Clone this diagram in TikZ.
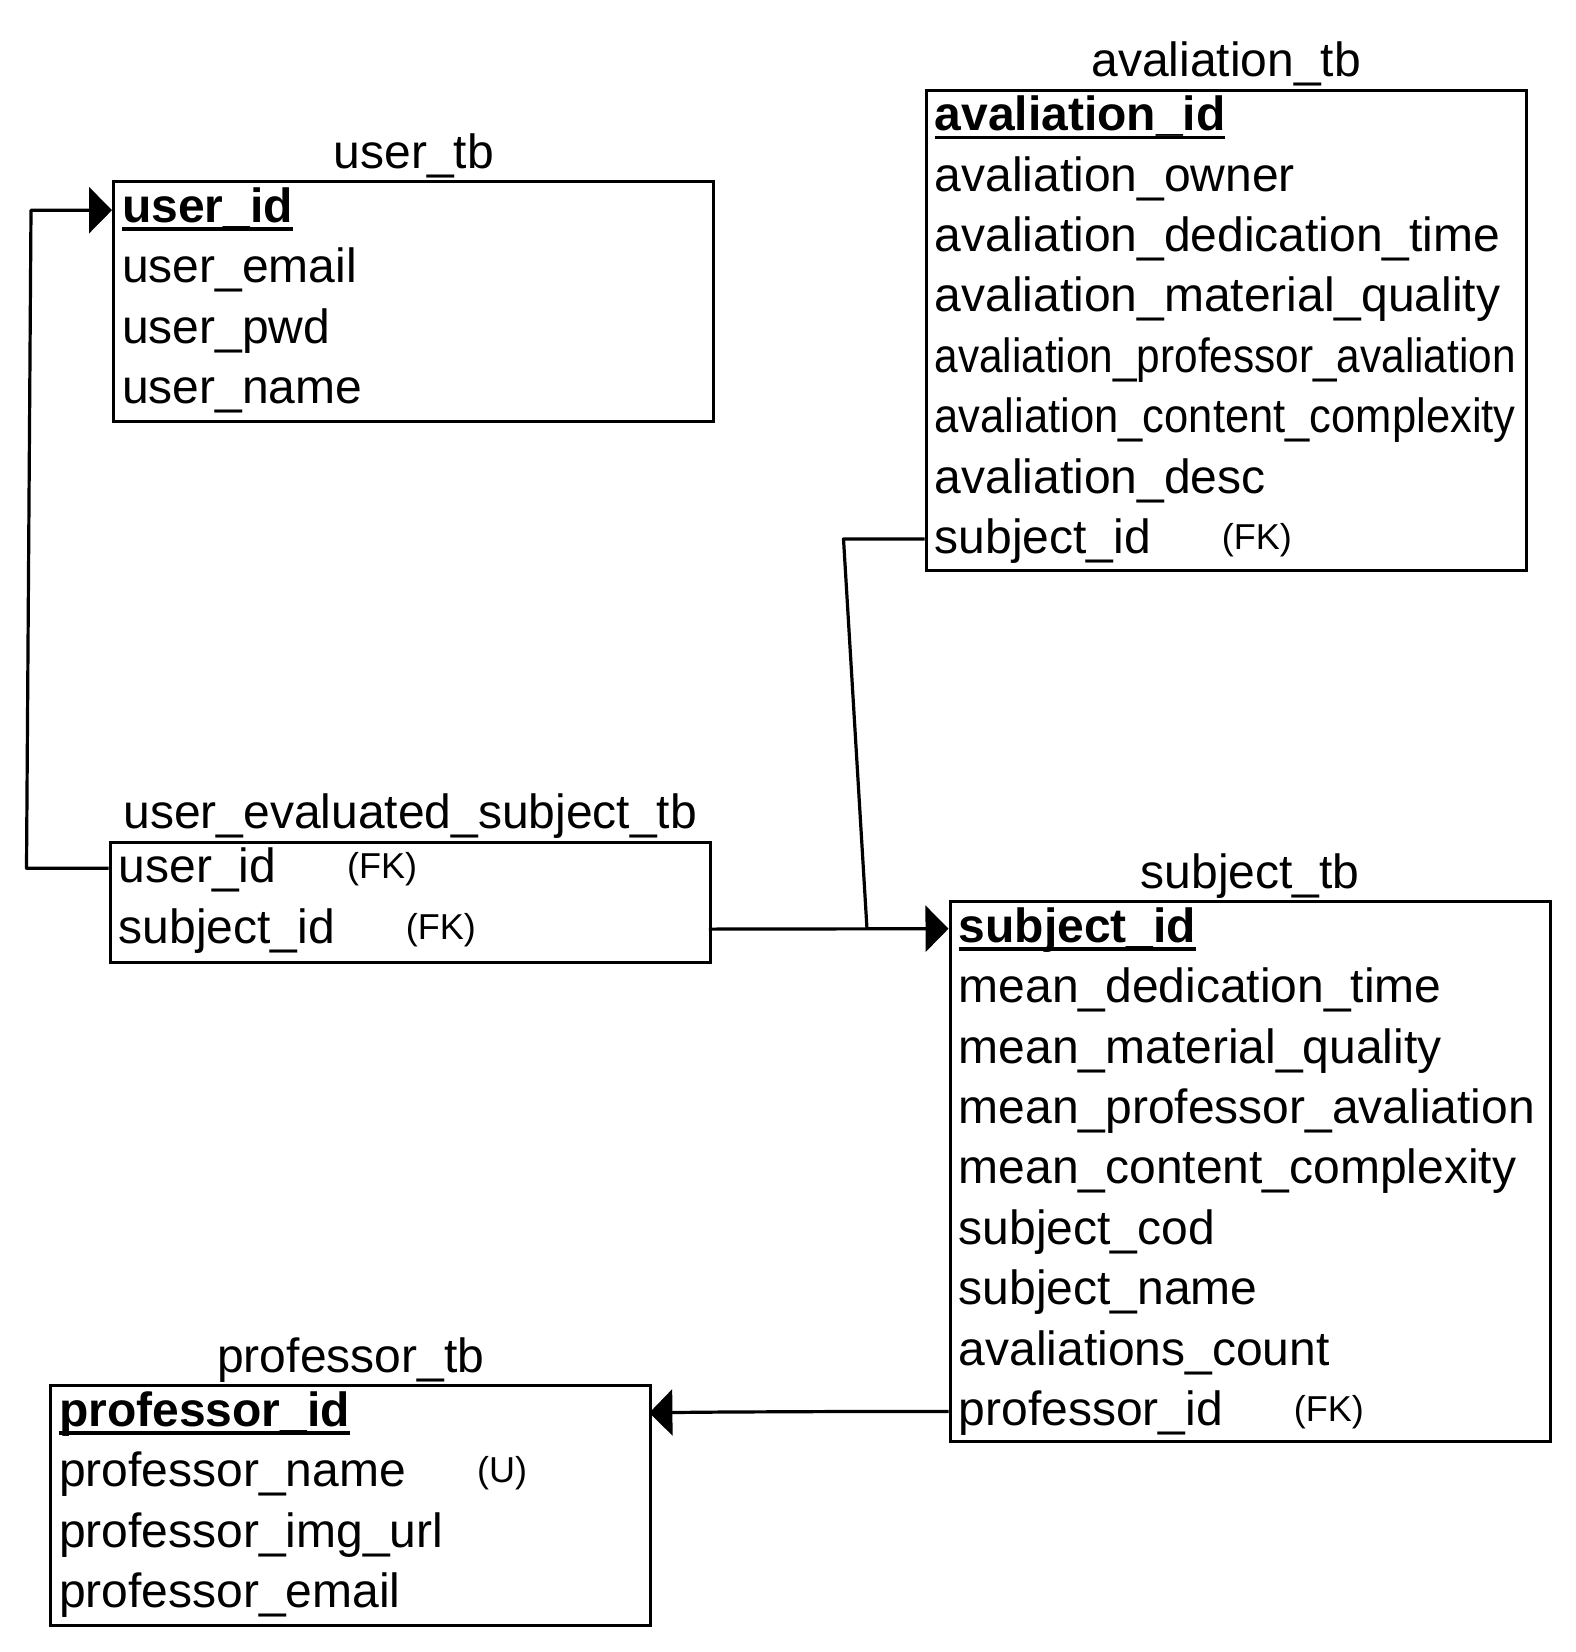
\documentclass[tikz,border=0pt]{standalone}
\usepackage{fontspec}
\usepackage{graphicx}
\setmainfont{Liberation Sans}
\usetikzlibrary{arrows.meta,calc}
\newcommand{\fk}[1]{\hspace{71pt}\raisebox{4pt}{\fontsize{36}{42}\selectfont #1}}
\newcommand{\pk}[1]{\setbox0\hbox{\bfseries #1}\rlap{\rule[-8.6pt]{\wd0}{3.4pt}}\box0}
\newcommand{\cond}[1]{\resizebox{581pt}{\height}{#1}}
\begin{document}
\begin{tikzpicture}[x=1pt,y=-1pt,
  every node/.style={font=\fontsize{48}{58}\selectfont},
  tbl/.style={draw,line width=3.4pt,minimum width=600pt,inner sep=0pt,anchor=north west},
  rowbox/.style={minimum width=600pt,minimum height=60pt,inner xsep=10pt,inner ysep=0pt,
    text width=580pt,align=left,text height=42pt,text depth=18pt,anchor=north west},
  ttl/.style={anchor=base,inner sep=0pt},
  conn/.style={line width=3.2pt,line join=round},
  tip/.style={-{Triangle[length=23pt,width=46pt]}}]
\useasboundingbox (0,0) rectangle (1576,1652);

% user_tb
\node[tbl,minimum height=240pt] (user) at (112,180) {};
\node[ttl] (user-t) at ($(user.north)+(0,-12)$) {user\_tb};
\node[rowbox] (user-1) at (user.north west) {\pk{user\_id}};
\node[rowbox] (user-2) at (user-1.south west) {user\_email};
\node[rowbox] (user-3) at (user-2.south west) {user\_pwd};
\node[rowbox] (user-4) at (user-3.south west) {user\_name};

% avaliation_tb
\node[tbl,minimum height=480pt] (aval) at (924.5,88.5) {};
\node[ttl] (aval-t) at ($(aval.north)+(0,-12)$) {avaliation\_tb};
\node[rowbox] (aval-1) at (aval.north west) {\pk{avaliation\_id}};
\node[rowbox] (aval-2) at (aval-1.south west) {avaliation\_owner};
\node[rowbox] (aval-3) at (aval-2.south west) {avaliation\_dedication\_time};
\node[rowbox] (aval-4) at (aval-3.south west) {avaliation\_material\_quality};
\node[rowbox] (aval-5) at (aval-4.south west) {\cond{avaliation\_professor\_avaliation}};
\node[rowbox] (aval-6) at (aval-5.south west) {\cond{avaliation\_content\_complexity}};
\node[rowbox] (aval-7) at (aval-6.south west) {avaliation\_desc};
\node[rowbox] (aval-8) at (aval-7.south west) {subject\_id\fk{(FK)}};

% user_evaluated_subject_tb
\node[tbl,minimum height=120pt] (ues) at (108.5,840.5) {};
\node[ttl] (ues-t) at ($(ues.north)+(0,-12)$) {user\_evaluated\_subject\_tb};
\node[rowbox] (ues-1) at (ues.north west) {user\_id\fk{(FK)}};
\node[rowbox] (ues-2) at (ues-1.south west) {subject\_id\fk{(FK)}};

% subject_tb
\node[tbl,minimum height=540pt] (subj) at (948.5,900) {};
\node[ttl] (subj-t) at ($(subj.north)+(0,-12)$) {subject\_tb};
\node[rowbox] (subj-1) at (subj.north west) {\pk{subject\_id}};
\node[rowbox] (subj-2) at (subj-1.south west) {mean\_dedication\_time};
\node[rowbox] (subj-3) at (subj-2.south west) {mean\_material\_quality};
\node[rowbox] (subj-4) at (subj-3.south west) {mean\_professor\_avaliation};
\node[rowbox] (subj-5) at (subj-4.south west) {mean\_content\_complexity};
\node[rowbox] (subj-6) at (subj-5.south west) {subject\_cod};
\node[rowbox] (subj-7) at (subj-6.south west) {subject\_name};
\node[rowbox] (subj-8) at (subj-7.south west) {avaliations\_count};
\node[rowbox] (subj-9) at (subj-8.south west) {professor\_id\fk{(FK)}};

% professor_tb
\node[tbl,minimum height=240pt] (prof) at (49,1384) {};
\node[ttl] (prof-t) at ($(prof.north)+(0,-12)$) {professor\_tb};
\node[rowbox] (prof-1) at (prof.north west) {\pk{professor\_id}};
\node[rowbox] (prof-2) at (prof-1.south west) {professor\_name\fk{(U)}};
\node[rowbox] (prof-3) at (prof-2.south west) {professor\_img\_url};
\node[rowbox] (prof-4) at (prof-3.south west) {professor\_email};

% connection points on the rows
\coordinate (ues1w) at ($(ues-1.west)+(0,-2.5)$);
\coordinate (user1w) at (user-1.west);
\coordinate (aval8w) at ($(aval-8.west)+(0,-2.5)$);
\coordinate (ues2e) at ($(ues-2.east)+(0,-2)$);
\coordinate (subj1w) at ($(subj-1.west)+(0,-1.5)$);
\coordinate (subj9w) at ($(subj-9.west)+(0,-2)$);
\coordinate (prof1e) at ($(prof-1.east)+(0,-1.5)$);

% connectors
\coordinate (b1) at (26.5,869);
\coordinate (b2) at (31,211);
\draw[conn,tip] (ues1w) -- (ues1w -| b1) -- (b2 |- user1w) -- (user1w);

\coordinate (j1) at (843.5,537);
\coordinate (j2) at (867,929);
\draw[conn] (aval8w) -- (aval8w -| j1) -- (j2);

\draw[conn,tip] (ues2e) -- (subj1w);

\coordinate (k1) at (867,1408);
\coordinate (k2) at (727,1412);
\draw[conn,tip] (subj9w) -- (subj9w -| k1) -- (k2) -- (prof1e);
\end{tikzpicture}
\end{document}
